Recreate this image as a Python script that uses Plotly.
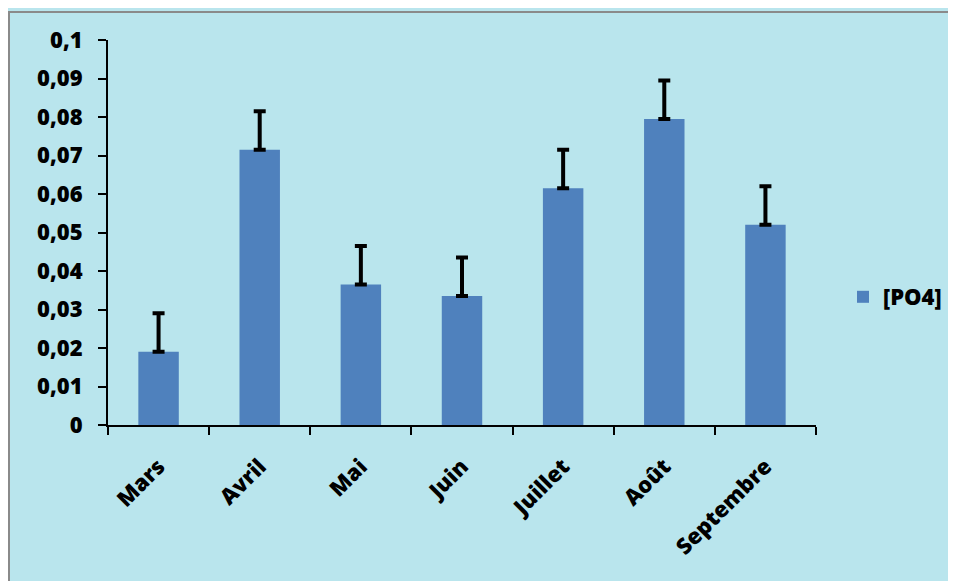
import plotly.graph_objects as go

months = ["Mars", "Avril", "Mai", "Juin", "Juillet", "Août", "Septembre"]
po4 = [0.019, 0.0715, 0.0365, 0.0335, 0.0615, 0.0795, 0.052]
po4_err = [0.010, 0.010, 0.010, 0.010, 0.010, 0.010, 0.010]
series_name = "[PO4]"

# page body has an 8px margin, so figure coordinates = screen coordinates - 8
W, H = 956, 581
L, T = 100, 32
R = W - 808
B = H - 417
pw, ph = W - L - R, H - T - B

def px_x(x):
    return (x - 8 - L) / pw

def px_y(y):
    return (T + ph - (y - 8)) / ph

bold = dict(family="Open Sans, Lato, sans-serif", color="black", weight=800)

fig = go.Figure()
fig.add_trace(go.Bar(
    x=months, y=po4, name=series_name,
    marker=dict(color="#4f81bd", line=dict(width=0)),
    width=0.4,
    error_y=dict(type="data", array=po4_err, symmetric=False, arrayminus=[0] * len(po4),
                 color="black", thickness=4, width=6),
))

fig.update_layout(
    width=W, height=H,
    margin=dict(l=L, r=R, t=T, b=B, pad=0, autoexpand=False),
    paper_bgcolor="#b9e5ed", plot_bgcolor="rgba(0,0,0,0)",
    separators=", ",
    showlegend=True,
    legend=dict(x=px_x(843), y=px_y(297), xanchor="left", yanchor="middle",
                font=dict(size=22, **bold), bgcolor="rgba(0,0,0,0)",
                itemwidth=30),
    xaxis=dict(showline=True, linecolor="black", linewidth=2, ticks="outside", ticklen=8,
               tickcolor="black", tickwidth=2, tickangle=-45, tickson="boundaries",
               ticklabelstandoff=18,
               tickfont=dict(size=22, **bold), showgrid=False),
    yaxis=dict(range=[0, 0.1], dtick=0.01, tickformat=".2~f", showline=True, linecolor="black",
               linewidth=2, ticks="outside", ticklen=8, tickcolor="black", tickwidth=2,
               showgrid=False, zeroline=False, ticklabelstandoff=11,
               tickfont=dict(size=22, **bold)),
    shapes=[dict(type="rect", xref="paper", yref="paper",
                 x0=px_x(9), x1=px_x(W + 20),
                 y0=px_y(H + 20), y1=px_y(12),
                 line=dict(color="#8a8a8a", width=2), layer="below")],
)
fig.write_html("out.html")
